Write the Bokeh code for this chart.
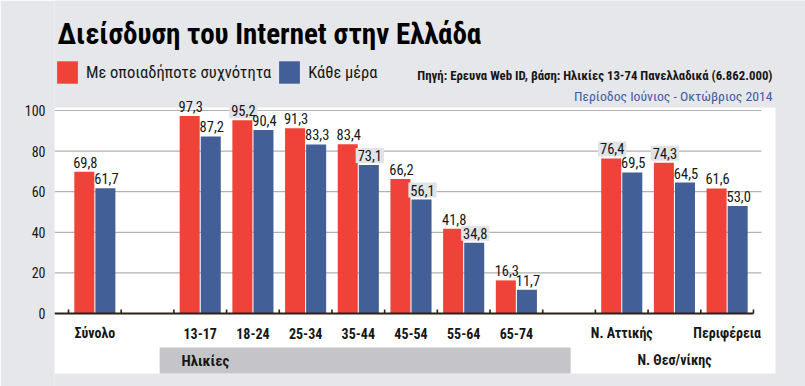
import numpy as np
from bokeh.plotting import figure
from bokeh.models import ColumnDataSource, Range1d, FixedTicker, Label, Legend, LegendItem
from bokeh.core.properties import value
from bokeh.embed import file_html
from bokeh.resources import INLINE

# ---------------- data ----------------
title_text = "Διείσδυση του Internet στην Ελλάδα"
series_names = ["Με οποιαδήποτε συχνότητα", "Κάθε μέρα"]
source_note = "Πηγή: Ερευνα Web ID, βάση: Ηλικίες 13-74 Πανελλαδικά (6.862.000)"
period_note = "Περίοδος Ιούνιος - Οκτώβριος 2014"

total_cats = ["Σύνολο"]
total_any = [69.8]
total_daily = [61.7]

age_cats = ["13-17", "18-24", "25-34", "35-44", "45-54", "55-64", "65-74"]
age_any = [97.3, 95.2, 91.3, 83.4, 66.2, 41.8, 16.3]
age_daily = [87.2, 90.4, 83.3, 73.1, 56.1, 34.8, 11.7]
age_group_label = "Ηλικίες"

region_cats = ["Ν. Αττικής", "Ν. Θεσ/νίκης", "Περιφέρεια"]
region_any = [76.4, 74.3, 61.6]
region_daily = [69.5, 64.5, 53.0]

y_ticks = [0, 20, 40, 60, 80, 100]

# ---------------- style ----------------
BG = "#e6e7ea"
RED = "#ef4239"
BLUE = "#435f98"
DARK = "#161616"
AXIS_COL = "#2b2117"
GRID_COL = "#b2b2b2"
GROUP_BAR = "#c5c5c9"
PERIOD_COL = "#3d5ca0"
BOX_COL = "#e2e3e6"
COND = "Roboto Condensed"
LOWER_LABELS = {"Ν. Θεσ/νίκης"}
BOXED = {("18-24", 0), ("35-44", 1), ("45-54", 1), ("55-64", 1),
         ("Ν. Αττικής", 0), ("Ν. Θεσ/νίκης", 0)}

# ---------------- layout (pixels) ----------------
W, H = 805, 386
FRAME_L = 54          # frame left edge (px)
UX = 52.69            # px per category slot
UY = 2.03             # px per percentage point
ZERO_PX = 313         # y pixel of value 0
TICK0_PX = 68         # x pixel of first slot boundary
LABEL_LIFT = 9.5      # px from bar top to label centre

x_start = -0.5 - (TICK0_PX - FRAME_L) / UX
x_end = x_start + (W - FRAME_L) / UX
y_end = ZERO_PX / UY
y_start = y_end - H / UY


def dx(px):
    return x_start + (px - FRAME_L) / UX


def dy(py):
    return (ZERO_PX - py) / UY


# slot positions: groups separated by one empty slot
groups = [(total_cats, total_any, total_daily),
          (age_cats, age_any, age_daily),
          (region_cats, region_any, region_daily)]
cats, any_vals, daily_vals, pos, group_slots = [], [], [], [], []
slot = 0
for gc, ga, gd in groups:
    slots = []
    for c, a, d in zip(gc, ga, gd):
        cats.append(c); any_vals.append(a); daily_vals.append(d); pos.append(slot)
        slots.append(slot)
        slot += 1
    group_slots.append(slots)
    slot += 1
last_slot = pos[-1]

pos = np.array(pos, dtype=float)
OFF = 0.2
BW = 0.38


def fmt(v):
    return f"{v:.1f}".replace(".", ",")


p = figure(width=W, height=H, output_backend="svg", toolbar_location=None,
           x_range=Range1d(x_start, x_end), y_range=Range1d(y_start, y_end),
           min_border_left=FRAME_L, min_border_right=0, min_border_top=0, min_border_bottom=0)
p.background_fill_color = BG
p.border_fill_color = BG
p.outline_line_color = None
p.xgrid.visible = False
p.ygrid.visible = False
p.xaxis.visible = False

yax = p.yaxis[0]
yax.ticker = FixedTicker(ticks=y_ticks)
yax.axis_line_color = None
yax.major_tick_line_color = None
yax.minor_tick_line_color = None
yax.major_tick_in = 0
yax.major_tick_out = 0
yax.major_label_standoff = 9
yax.major_label_text_font = COND
yax.major_label_text_font_size = "14px"
yax.major_label_text_color = DARK

# white panel
p.quad(left=[x_start], right=[dx(775)], bottom=[dy(373)], top=[dy(107)],
       fill_color="white", line_color=None)
# group bar for ages
ag = group_slots[1]
p.quad(left=[ag[0] - 0.5 - 0.27], right=[ag[-1] + 0.5 + 0.53], bottom=[dy(373)], top=[dy(347)],
       fill_color=GROUP_BAR, line_color=None)

# gridlines
gt = [t for t in y_ticks if t > 0]
p.segment(x0=[x_start] * len(gt), x1=[dx(761)] * len(gt), y0=gt, y1=gt,
          line_color=GRID_COL, line_width=1.2)

src = ColumnDataSource(dict(x=pos, cat=cats, a=any_vals, d=daily_vals,
                            xa=pos - OFF, xd=pos + OFF,
                            la=[fmt(v) for v in any_vals], ld=[fmt(v) for v in daily_vals]))

r_any = p.vbar(x="xa", top="a", bottom=0, width=BW, source=src, fill_color=RED, line_color=None)
r_day = p.vbar(x="xd", top="d", bottom=0, width=BW, source=src, fill_color=BLUE, line_color=None)

# axis line and ticks
bounds = np.arange(-0.5, last_slot + 1.0, 1.0)
p.segment(x0=[x_start], x1=[bounds[-1]], y0=[0], y1=[0], line_color=AXIS_COL, line_width=2)
p.segment(x0=bounds, x1=bounds, y0=[0] * len(bounds), y1=[4 / UY] * len(bounds),
          line_color=AXIS_COL, line_width=1.6)

# value labels
lift = LABEL_LIFT / UY
for k, (xcol, vcol, lcol) in enumerate([("xa", "a", "la"), ("xd", "d", "ld")]):
    plain = [i for i, c in enumerate(cats) if (c, k) not in BOXED]
    boxed = [i for i, c in enumerate(cats) if (c, k) in BOXED]
    for idx, boxy in ((plain, False), (boxed, True)):
        if not idx:
            continue
        s = ColumnDataSource(dict(x=[src.data[xcol][i] for i in idx],
                                  y=[src.data[vcol][i] + lift for i in idx],
                                  t=[src.data[lcol][i] for i in idx]))
        kw = {}
        if boxy:
            kw = dict(background_fill_color=BOX_COL, padding=2)
        p.text(x="x", y="y", text="t", source=s, text_font=value(COND),
               text_font_size="14.5px", text_color=DARK, text_align="center",
               text_baseline="middle", x_offset=1, **kw)

# category labels
upper = [i for i, c in enumerate(cats) if c not in LOWER_LABELS]
lower = [i for i, c in enumerate(cats) if c in LOWER_LABELS]
s_up = ColumnDataSource(dict(x=[pos[i] for i in upper], y=[dy(332.5)] * len(upper), t=[cats[i] for i in upper]))
s_lo = ColumnDataSource(dict(x=[pos[i] for i in lower], y=[dy(359.5)] * len(lower), t=[cats[i] for i in lower]))
for s in (s_up, s_lo):
    p.text(x="x", y="y", text="t", source=s, text_font=value(COND), text_font_size="14px",
           text_font_style="bold", text_color=DARK, text_align="center", text_baseline="middle")

p.add_layout(Label(x=dx(181), y=dy(360.5), text=age_group_label, text_font=COND,
                   text_font_size="15px", text_font_style="bold", text_color=DARK,
                   text_baseline="middle", text_align="left"))

# title and notes
p.add_layout(Label(x=dx(57), y=dy(33), text=title_text, text_font=COND, text_font_size="29px",
                   text_font_style="bold", text_color="black", text_baseline="middle"))
p.add_layout(Label(x=dx(772), y=dy(75), text=source_note, text_font=COND, text_font_size="12.8px",
                   text_font_style="bold", text_color=DARK, text_align="right", text_baseline="middle"))
p.add_layout(Label(x=dx(772), y=dy(95), text=period_note, text_font=COND, text_font_size="13.7px",
                   text_color=PERIOD_COL, text_align="right", text_baseline="middle"))

legend = Legend(items=[LegendItem(label=series_names[0], renderers=[r_any]),
                       LegendItem(label=series_names[1], renderers=[r_day])],
                orientation="horizontal", location=(0, H - 86), margin=0, padding=0,
                glyph_width=26, glyph_height=28, label_height=28, label_standoff=6, spacing=5,
                label_text_font=COND, label_text_font_size="16.5px", label_text_color=DARK,
                background_fill_alpha=0, border_line_color=None)
p.add_layout(legend)

open("out.html", "w").write(file_html(p, INLINE))
